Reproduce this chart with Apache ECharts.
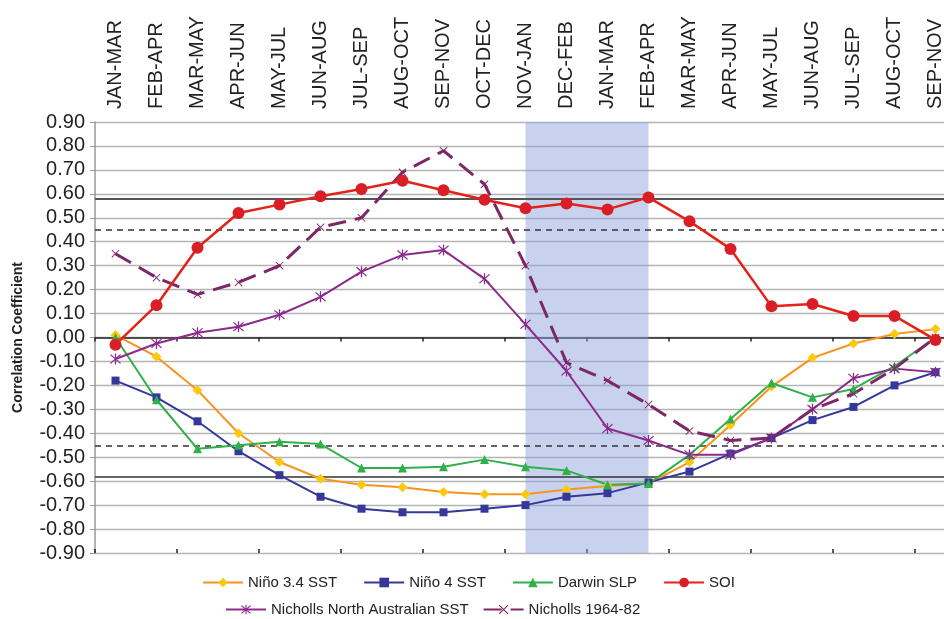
<!DOCTYPE html>
<html>
<head>
<meta charset="utf-8">
<script src="https://cdn.jsdelivr.net/npm/echarts@6/dist/echarts.min.js"></script>
<style>
html,body{margin:0;padding:0;background:#fff;}
#chart{width:944px;height:619px;}
</style>
</head>
<body>
<div id="chart"></div>
<script>
const categories = ['JAN-MAR','FEB-APR','MAR-MAY','APR-JUN','MAY-JUL','JUN-AUG','JUL-SEP','AUG-OCT','SEP-NOV','OCT-DEC','NOV-JAN','DEC-FEB','JAN-MAR','FEB-APR','MAR-MAY','APR-JUN','MAY-JUL','JUN-AUG','JUL-SEP','AUG-OCT','SEP-NOV'];
const nino34 = [0.01,-0.08,-0.22,-0.40,-0.52,-0.59,-0.615,-0.625,-0.645,-0.655,-0.655,-0.635,-0.62,-0.61,-0.52,-0.365,-0.205,-0.085,-0.025,0.015,0.035];
const nino4 = [-0.18,-0.25,-0.35,-0.475,-0.575,-0.665,-0.715,-0.73,-0.73,-0.715,-0.70,-0.665,-0.65,-0.605,-0.56,-0.485,-0.42,-0.345,-0.29,-0.20,-0.145];
const darwinSLP = [0.00,-0.26,-0.465,-0.45,-0.435,-0.445,-0.545,-0.545,-0.54,-0.51,-0.54,-0.555,-0.615,-0.61,-0.49,-0.34,-0.19,-0.25,-0.215,-0.12,0.00];
const soi = [-0.03,0.135,0.375,0.52,0.555,0.59,0.62,0.655,0.615,0.575,0.54,0.56,0.535,0.585,0.485,0.37,0.13,0.14,0.09,0.09,-0.01];
const nichollsNA = [-0.09,-0.025,0.02,0.045,0.095,0.17,0.275,0.345,0.365,0.245,0.055,-0.14,-0.38,-0.43,-0.49,-0.49,-0.42,-0.30,-0.17,-0.13,-0.145];
const nicholls6482 = [0.35,0.25,0.18,0.23,0.30,0.46,0.50,0.69,0.78,0.64,0.30,-0.105,-0.18,-0.28,-0.39,-0.43,-0.42,-0.30,-0.235,-0.13,0.00];
const seriesNames = ['Niño 3.4 SST','Niño 4 SST','Darwin SLP','SOI','Nicholls North Australian SST','Nicholls 1964-82'];
const sigSolid = [0.576,-0.576];
const sigDashed = [0.45,-0.45];
const shadeRange = [10,13];

const FONT = 'Liberation Sans, Arial, sans-serif';
const asterisk = 'path://M9,0L11,0L11,20L9,20Z M1.3,2.7L2.7,1.3L18.7,17.3L17.3,18.7Z M17.3,1.3L18.7,2.7L2.7,18.7L1.3,17.3Z';
const smallX = 'path://M1.3,2.7L2.7,1.3L18.7,17.3L17.3,18.7Z M17.3,1.3L18.7,2.7L2.7,18.7L1.3,17.3Z';

function lineSeries(name, data, color, symbol, size, lw, markerColor, dash){
  return {
    name, type:'line', data, xAxisIndex:0, yAxisIndex:0,
    symbol, symbolSize:size, showSymbol:true,
    lineStyle:{color, width:lw, type: dash || 'solid'},
    itemStyle:{color: markerColor || color, borderWidth:0},
    z:5, animation:false
  };
}

const chart = echarts.init(document.getElementById('chart'), null, {renderer:'canvas'});
const option = {
  backgroundColor:'#ffffff',
  animation:false,
  grid:{left:95, top:122, width:861, height:431, containLabel:false, outerBoundsMode:'none'},
  legend:[
    {data:seriesNames.slice(0,4), top:570, left:197, itemGap:26, itemWidth:40, itemHeight:12,
     textStyle:{fontFamily:FONT, fontSize:15, color:'#222'}},
    {data:seriesNames.slice(4), top:597, left:220, itemGap:14, itemWidth:40, itemHeight:12,
     textStyle:{fontFamily:FONT, fontSize:15, color:'#222'}}
  ],
  xAxis:[
    {type:'category', data:categories, position:'top', boundaryGap:true,
     axisLine:{show:false, onZero:false}, axisTick:{show:false},
     axisLabel:{rotate:-90, margin:13, fontFamily:FONT, fontSize:20, color:'#222', interval:0},
     splitLine:{show:false}},
    {type:'category', data:categories, position:'bottom', boundaryGap:true,
     axisLine:{show:true, onZero:true, lineStyle:{color:'#222', width:1.5}},
     axisTick:{show:true, length:4, inside:false, lineStyle:{color:'#222', width:1.5}},
     axisLabel:{show:false}, splitLine:{show:false}},
    {type:'category', data:categories, position:'bottom', boundaryGap:true,
     axisLine:{show:false, onZero:true},
     axisTick:{show:true, length:4, inside:true, lineStyle:{color:'#222', width:1.5}},
     axisLabel:{show:false}, splitLine:{show:false}}
  ],
  yAxis:{
    type:'value', min:-0.9, max:0.9, interval:0.1,
    name:'Correlation Coefficient', nameLocation:'middle', nameRotate:90, nameGap:70,
    nameTextStyle:{fontFamily:FONT, fontSize:14, fontWeight:'bold', color:'#222'},
    axisLine:{show:true, lineStyle:{color:'#999', width:1.5}},
    axisTick:{show:true, length:5, lineStyle:{color:'#999'}},
    axisLabel:{fontFamily:FONT, fontSize:20, color:'#222', margin:10,
      formatter:function(v){ if(Math.abs(v)<1e-9) return '0.00'; return v.toFixed(2); }},
    splitLine:{show:true, lineStyle:{color:'#b4b4b4', width:1.3}}
  },
  series:[
    {name:'_bg', type:'line', data:[], xAxisIndex:0, yAxisIndex:0, z:1, silent:true,
     markArea:{silent:true, itemStyle:{color:'rgba(140,160,220,0.48)'},
       data:[[{xAxis:shadeRange[0]},{xAxis:shadeRange[1]}]]},
     markLine:{silent:true, symbol:['none','none'], label:{show:false},
       data:[
         {yAxis:sigSolid[0], lineStyle:{color:'#555', width:2.2, type:'solid'}},
         {yAxis:sigSolid[1], lineStyle:{color:'#333', width:1.6, type:'solid'}},
         {yAxis:sigDashed[0], lineStyle:{color:'#333', width:1.6, type:[6,5]}},
         {yAxis:sigDashed[1], lineStyle:{color:'#333', width:1.6, type:[6,5]}}
       ]}
    },
    lineSeries(seriesNames[0], nino34, '#f7941d', 'diamond', 10, 2, '#fbc90f'),
    lineSeries(seriesNames[1], nino4, '#35389a', 'rect', 8, 2, '#35389a'),
    lineSeries(seriesNames[2], darwinSLP, '#2fb04a', 'triangle', 9, 2, '#2fb04a'),
    lineSeries(seriesNames[4], nichollsNA, '#8c2a8c', asterisk, 11, 2, '#8c2a8c'),
    lineSeries(seriesNames[5], nicholls6482, '#7d2668', smallX, 8, 3, '#7d2668', [18,9]),
    lineSeries(seriesNames[3], soi, '#e2231a', 'circle', 12, 2.5, '#d91e26')
  ]
};
chart.setOption(option);
</script>
</body>
</html>
